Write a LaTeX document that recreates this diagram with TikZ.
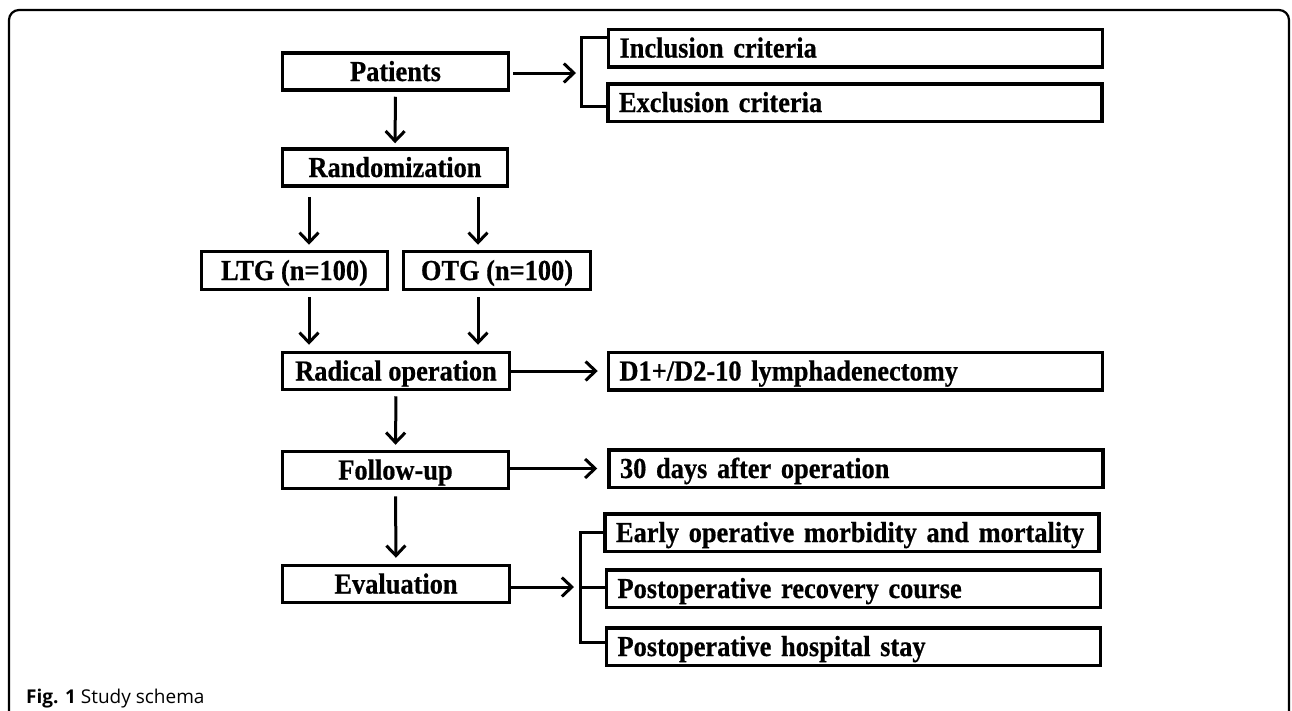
\documentclass[tikz,border=0pt]{standalone}
\usepackage{fontspec}
\setmainfont{Liberation Serif}
\newfontfamily\boxfont{Liberation Serif}[FakeStretch=0.91, BoldFeatures={FakeBold=0.6, FakeStretch=0.91}]
\newfontfamily\capfont{Open Sans}
\usetikzlibrary{arrows.meta,calc}
\tikzset{
  boxtext/.style={font=\boxfont\fontsize{29}{32}\selectfont\bfseries, text height=19pt, text depth=0pt},
  cbox/.style={boxtext, draw, line width=3.5pt, minimum height=37pt, inner sep=0pt, align=center},
  rbox/.style={boxtext, draw, line width=3.5pt, minimum height=37.5pt, inner xsep=11pt, inner ysep=0pt, text width=472pt, align=left},
  arr/.style={line width=3pt, -{Straight Barb[length=10pt,width=19pt,line width=3pt]}},
  conn/.style={line width=3pt},
  frame/.style={line width=2.2pt, rounded corners=10pt}
}
\begin{document}
\begin{tikzpicture}[x=1pt,y=-1pt]
\useasboundingbox (0,0) rectangle (1292,710);
\clip (0,0) rectangle (1292,710);
\fill[white] (0,0) rectangle (1292,710);
\draw[frame] (9,740) -- (9,10) -- (1289,10) -- (1289,740);

% main column
\node[cbox, minimum width=226pt] (pat) at (395.5,71.5) {Patients};
\node[cbox, minimum width=225pt] (rand) at (395,167.5) {Randomization};
\node[cbox, minimum width=186pt, minimum height=38pt] (ltg) at (294.5,270.5) {LTG (n=100)};
\node[cbox, minimum width=187pt, minimum height=38pt] (otg) at (497,270.5) {OTG (n=100)};
\node[cbox, minimum width=227pt] (rad) at (396,371) {Radical operation};
\node[cbox, minimum width=226pt] (fol) at (395.5,470) {Follow-up};
\node[cbox, minimum width=227pt] (eva) at (396,584) {Evaluation};

% right column
\node[rbox] (inc) at (855.5,48) {Inclusion criteria};
\node[rbox] (exc) at (855,102.5) {Exclusion criteria};
\node[rbox] (d1) at (855.5,371) {D1+/D2-10 lymphadenectomy};
\node[rbox] (days) at (856,468.5) {30 days after operation};
\node[rbox] (early) at (852,532.5) {Early operative morbidity and mortality};
\node[rbox] (rec) at (853.5,588.5) {Postoperative recovery course};
\node[rbox] (hosp) at (853.5,646.5) {Postoperative hospital stay};

% helper coordinates
\coordinate (lx) at (309,0);
\coordinate (ox) at (478,0);
\coordinate (b1) at (581,73);
\coordinate (b1t) at (581,37);
\coordinate (b1b) at (581,106);
\coordinate (b2) at (580,587);
\coordinate (b2t) at (580,532);
\coordinate (b2b) at (580,642);

% vertical arrows
\draw[arr, shorten <=5pt, shorten >=4pt] (pat.south) -- (rand.north);
\draw[arr, shorten <=9pt, shorten >=5pt] (rand.south -| lx) -- (ltg.north -| lx);
\draw[arr, shorten <=9pt, shorten >=5pt] (rand.south -| ox) -- (otg.north -| ox);
\draw[arr, shorten <=6pt, shorten >=6pt] (ltg.south -| lx) -- (rad.north -| lx);
\draw[arr, shorten <=6pt, shorten >=6pt] (otg.south -| ox) -- (rad.north -| ox);
\draw[arr, shorten <=5pt, shorten >=5pt] (rad.south) -- (fol.north);
\draw[arr, shorten <=6pt, shorten >=6pt] (fol.south) -- (eva.north);

% horizontal arrows
\draw[arr, shorten <=3pt, shorten >=5pt] (pat.east |- b1) -- (b1);
\draw[arr, shorten >=9pt] (rad.east) -- (d1.west |- rad.east);
\draw[arr, shorten >=10pt] (fol.east |- days.west) -- (days.west);
\draw[arr, shorten >=6pt] (eva.east |- b2) -- (b2);

% brackets
\draw[conn, line cap=rect] (b1t) -- (b1b);
\draw[conn] (b1t) -- (inc.west |- b1t);
\draw[conn] (b1b) -- (exc.west |- b1b);
\draw[conn, line cap=rect] (b2t) -- (b2b);
\draw[conn] (b2t) -- (early.west |- b2t);
\draw[conn] (b2) -- (rec.west |- b2);
\draw[conn] (b2b) -- (hosp.west |- b2b);

% caption
\node[anchor=base west, inner sep=0pt, font=\capfont\fontsize{19}{22}\selectfont] (cap) at (26,703) {\textbf{Fig. 1} Study schema};
\end{tikzpicture}
\end{document}
